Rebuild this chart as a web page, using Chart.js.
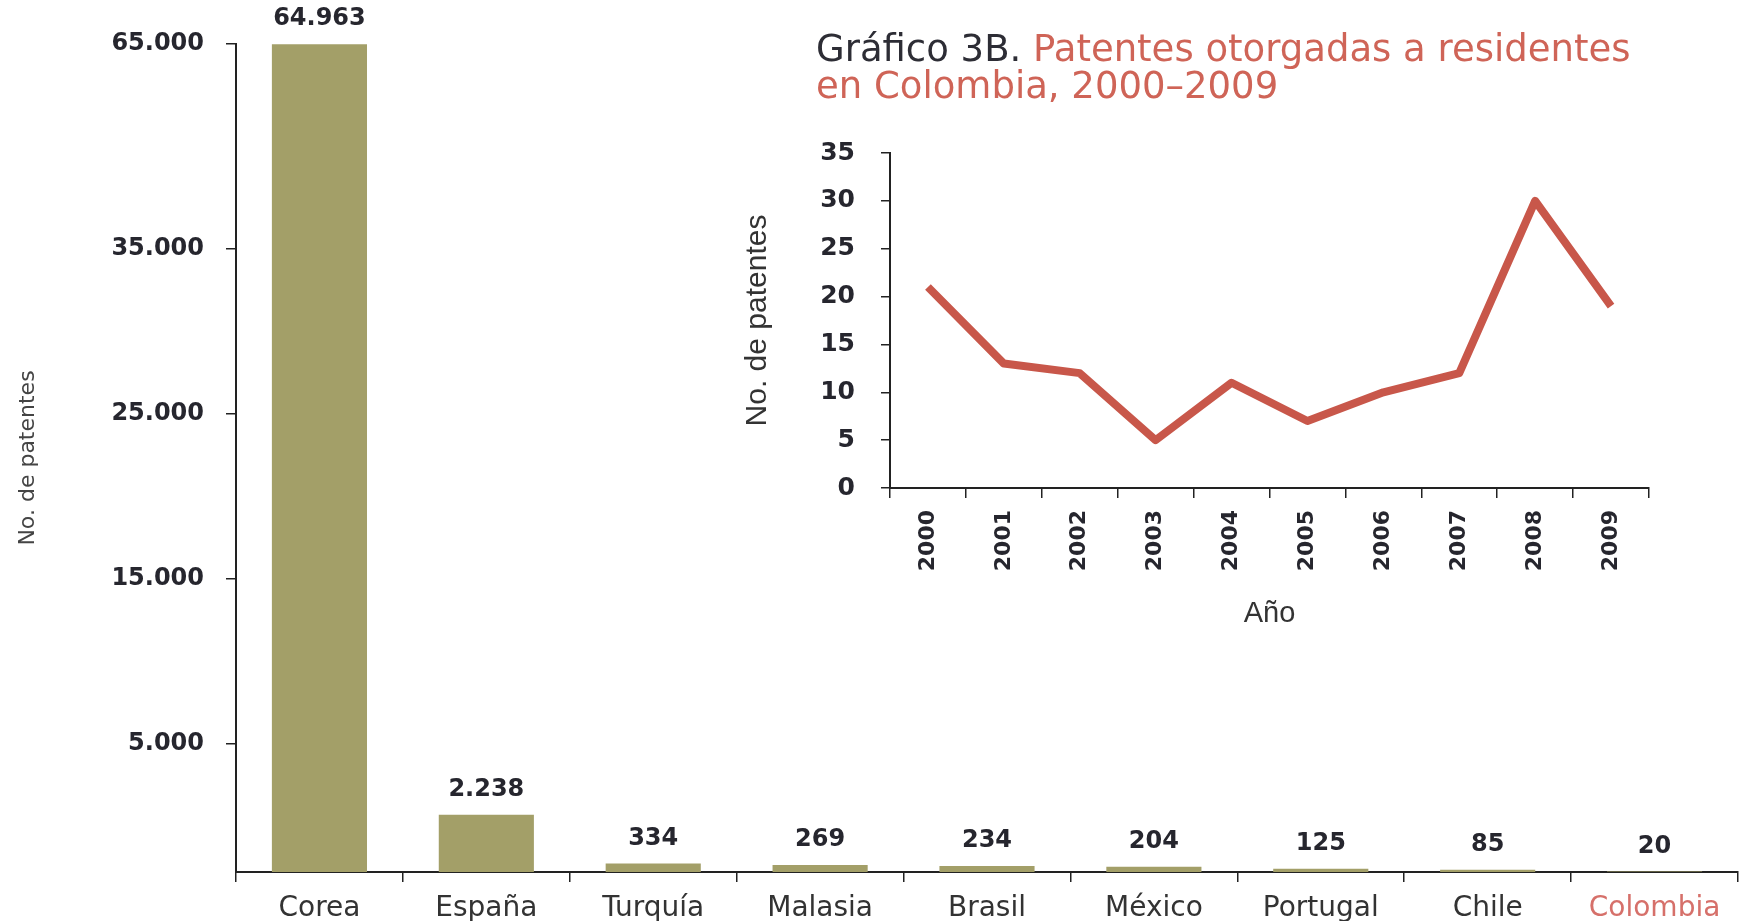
<!DOCTYPE html>
<html>
<head>
<meta charset="utf-8">
<script src="https://cdn.jsdelivr.net/npm/chart.js@4.4.1/dist/chart.umd.min.js"></script>
<style>
  html, body { margin: 0; padding: 0; background: #fff; }
  body { width: 1741px; height: 921px; position: relative; overflow: hidden; }
  #mainChart { position: absolute; left: 0; top: 0; }
  #insetChart { position: absolute; left: 740px; top: 110px; }
  #insetTitle {
    position: absolute; left: 816px; top: 30px;
    font: 37px/37px "DejaVu Sans", sans-serif;
    color: #2d2d35; white-space: nowrap;
  }
  #insetTitle .red { color: #cf6457; }
</style>
</head>
<body>
<canvas id="mainChart" width="1741" height="921"></canvas>
<div id="insetTitle">Gráfico 3B. <span class="red">Patentes otorgadas a residentes</span><br><span class="red">en Colombia, 2000–2009</span></div>
<canvas id="insetChart" width="960" height="560"></canvas>
<script>
// Patentes otorgadas a residentes, por país
const countries = ['Corea', 'España', 'Turquía', 'Malasia', 'Brasil', 'México', 'Portugal', 'Chile', 'Colombia'];
const patentCounts = [64963, 2238, 334, 269, 234, 204, 125, 85, 20];

// Eje Y del gráfico principal (escala no lineal, como en el original)
const yTickValues = [5000, 15000, 25000, 35000, 65000];
const yBreaks = [0, 5000, 15000, 25000, 35000, 65000];

// Gráfico 3B: Colombia 2000-2009
const years = ['2000', '2001', '2002', '2003', '2004', '2005', '2006', '2007', '2008', '2009'];
const colombiaPatents = [21, 13, 12, 5, 11, 7, 10, 12, 30, 19];

// share of the axis height given to each segment between breaks
const segmentShare = [128, 165, 165, 165, 205];

const OLIVE = '#a39f68';
const RED = '#c8574a';
const INK = '#26262e';

function formatThousands(n) {
    return String(n).replace(/\B(?=(\d{3})+(?!\d))/g, '.');
}

// Piecewise linear scale: each segment between breaks gets its own share of the axis
class SegmentedScale extends Chart.LinearScale {
    _cumShare() {
        const total = segmentShare.reduce((a, b) => a + b, 0);
        const cum = [0];
        segmentShare.forEach(s => cum.push(cum[cum.length - 1] + s / total));
        return cum;
    }
    getPixelForValue(value) {
        const cum = this._cumShare();
        let i = 0;
        while (i < yBreaks.length - 2 && value > yBreaks[i + 1]) i++;
        const t = (value - yBreaks[i]) / (yBreaks[i + 1] - yBreaks[i]);
        return this.getPixelForDecimal(cum[i] + t * (cum[i + 1] - cum[i]));
    }
    getValueForPixel(pixel) {
        const cum = this._cumShare();
        const d = this.getDecimalForPixel(pixel);
        let i = 0;
        while (i < cum.length - 2 && d > cum[i + 1]) i++;
        const t = (d - cum[i]) / (cum[i + 1] - cum[i]);
        return yBreaks[i] + t * (yBreaks[i + 1] - yBreaks[i]);
    }
}
SegmentedScale.id = 'segmented';
SegmentedScale.defaults = Chart.LinearScale.defaults;
Chart.register(SegmentedScale);

// Value labels above each bar
const valueLabels = {
    id: 'valueLabels',
    afterDatasetsDraw(chart) {
        const ctx = chart.ctx;
        const meta = chart.getDatasetMeta(0);
        ctx.save();
        ctx.font = 'bold 24px "DejaVu Sans"';
        ctx.fillStyle = INK;
        ctx.textAlign = 'center';
        ctx.textBaseline = 'middle';
        meta.data.forEach((bar, i) => {
            ctx.fillText(formatThousands(patentCounts[i]), bar.x, bar.y - 25);
        });
        ctx.restore();
    }
};

Chart.defaults.font.family = '"DejaVu Sans", sans-serif';
Chart.defaults.color = INK;

new Chart(document.getElementById('mainChart'), {
    type: 'bar',
    data: {
        labels: countries,
        datasets: [{
            data: patentCounts,
            backgroundColor: OLIVE,
            categoryPercentage: 1,
            barPercentage: 0.57
        }]
    },
    options: {
        responsive: false,
        animation: false,
        devicePixelRatio: 1,
        events: [],
        layout: { padding: { top: 44, right: 3, left: 0, bottom: 0 } },
        plugins: { legend: { display: false }, tooltip: { enabled: false } },
        scales: {
            x: {
                type: 'category',
                offset: true,
                grid: { offset: true, drawOnChartArea: false, drawTicks: true, tickLength: 10, color: '#222', lineWidth: 1.5 },
                border: { display: true, color: '#222', width: 2 },
                ticks: {
                    font: { size: 28 },
                    padding: 10,
                    color: ctx => (countries[ctx.index] === 'Colombia' ? '#d6706a' : '#333'),
                    autoSkip: false,
                    maxRotation: 0
                },
                afterFit: scale => { scale.height = 49; }
            },
            y: {
                type: 'segmented',
                min: 0,
                max: 65000,
                afterBuildTicks: scale => { scale.ticks = yTickValues.map(v => ({ value: v })); },
                grid: { drawOnChartArea: false, drawTicks: true, tickLength: 10, color: '#222', lineWidth: 1.5 },
                border: { display: true, color: '#222', width: 2 },
                ticks: {
                    font: { size: 24, weight: 'bold' },
                    color: INK,
                    padding: 22,
                    callback: v => formatThousands(v)
                },
                title: {
                    display: true,
                    text: 'No. de patentes',
                    font: { size: 22 },
                    color: '#444',
                    padding: { top: 15, bottom: 0 }
                },
                afterFit: scale => { scale.width = 236; }
            }
        }
    },
    plugins: [valueLabels]
});

new Chart(document.getElementById('insetChart'), {
    type: 'line',
    data: {
        labels: years,
        datasets: [{
            data: colombiaPatents,
            borderColor: RED,
            borderWidth: 8,
            borderJoinStyle: 'round',
            pointRadius: 0,
            tension: 0,
            fill: false
        }]
    },
    options: {
        responsive: false,
        animation: false,
        devicePixelRatio: 1,
        events: [],
        layout: { padding: { top: 43, right: 51, left: 0, bottom: 0 } },
        plugins: { legend: { display: false }, tooltip: { enabled: false } },
        scales: {
            x: {
                type: 'category',
                offset: true,
                grid: { offset: true, drawOnChartArea: false, drawTicks: true, tickLength: 10, color: '#222', lineWidth: 1.5 },
                border: { display: true, color: '#222', width: 2 },
                ticks: {
                    font: { size: 22, weight: 'bold' },
                    color: INK,
                    padding: 12,
                    autoSkip: false,
                    minRotation: 90,
                    maxRotation: 90
                },
                title: {
                    display: true,
                    text: 'Año',
                    font: { family: '"Liberation Sans", Arial, sans-serif', size: 29 },
                    color: '#333',
                    padding: { top: 0, bottom: 39 }
                },
                afterFit: scale => { scale.height = 182; }
            },
            y: {
                min: 0,
                max: 35,
                grid: { drawOnChartArea: false, drawTicks: true, tickLength: 9, color: '#222', lineWidth: 1.5 },
                border: { display: true, color: '#222', width: 2 },
                ticks: {
                    stepSize: 5,
                    font: { size: 25, weight: 'bold' },
                    color: INK,
                    padding: 26
                },
                title: {
                    display: true,
                    text: 'No. de patentes',
                    font: { family: '"Liberation Sans", Arial, sans-serif', size: 30 },
                    color: '#333',
                    padding: { top: 0, bottom: 0 }
                },
                afterFit: scale => { scale.width = 150; }
            }
        }
    }
});
</script>
</body>
</html>
